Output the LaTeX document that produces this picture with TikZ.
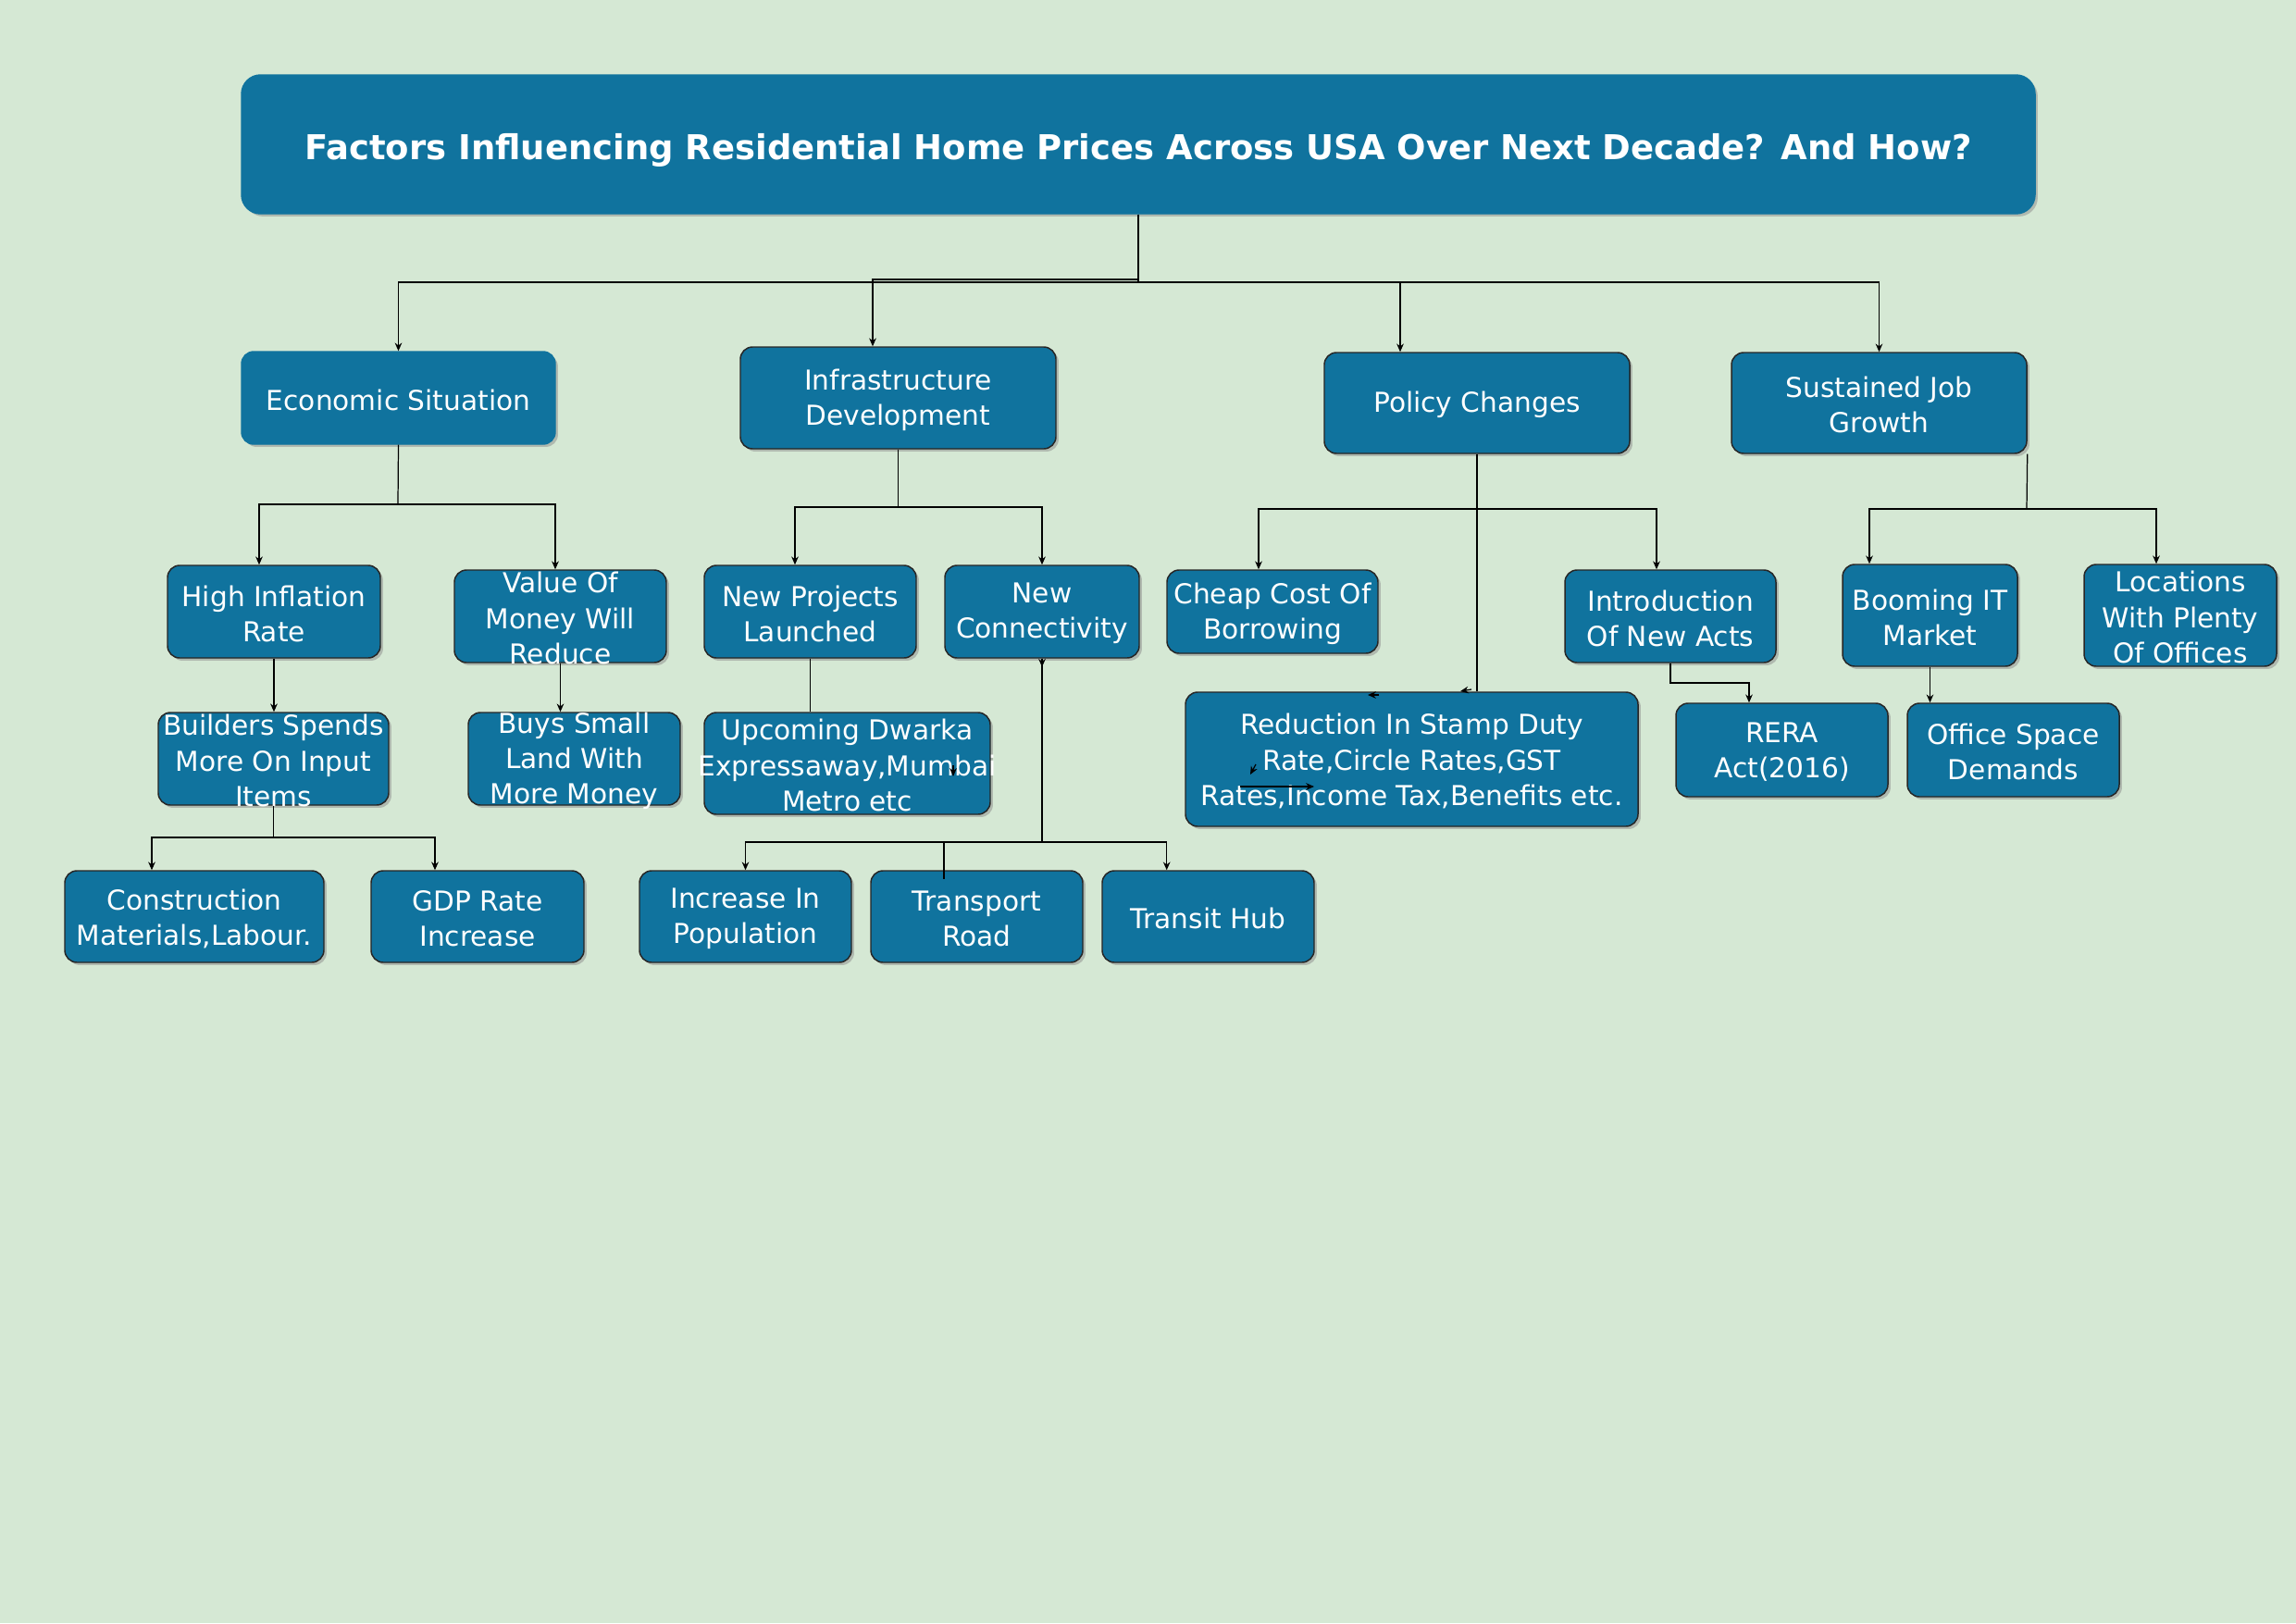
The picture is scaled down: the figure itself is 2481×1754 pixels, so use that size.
\documentclass[tikz,border=0pt]{standalone}
\usepackage{fontspec}
\setmainfont{DejaVu Sans}
\usetikzlibrary{arrows.meta,fit,shadows}
\definecolor{bgc}{HTML}{D5E8D4}
\definecolor{boxc}{HTML}{10739E}
\begin{document}
\begin{tikzpicture}[x=0.011971cm,y=-0.011971cm,
  shad/.style={drop shadow={shadow xshift=1pt,shadow yshift=-1pt,fill=black!45,opacity=0.5}},
  box/.style={draw=black!85,line width=0.5pt,fill=boxc,rounded corners=4.5pt,inner sep=0pt,shad},
  boxnb/.style={draw=boxc,line width=0.5pt,fill=boxc,rounded corners=4.5pt,inner sep=0pt,shad},
  txt/.style={text=white,align=center,inner sep=0pt,yshift=-0.7pt,font=\fontsize{10.1}{13}\selectfont},
  conn/.style={draw=black,line width=0.42pt},
  arr/.style={conn,-{Stealth[length=3pt,width=2.6pt]}}]
\useasboundingbox (0,0) rectangle (2481,1754);
\fill[bgc] (0,0) rectangle (2481,1754);

% ---- boxes ----
\node[boxnb,rounded corners=7pt,fit={(261,81) (2199,231)}] (title) {};
\node[text=white,inner sep=0pt,font=\bfseries\fontsize{12.6}{15}\selectfont] (ttitle) at ([yshift=-2.3pt]title.center) {Factors Influencing Residential Home Prices Across USA Over Next Decade? And How?};

\node[boxnb,fit={(261,380) (600,480)}] (econ) {};
\node[txt] (tecon) at (econ.center) {Economic Situation};
\node[box,fit={(800,375) (1141,485)}] (infra) {};
\node[txt] (tinfra) at (infra.center) {Infrastructure\\Development};
\node[box,fit={(1431,381) (1761,490)}] (policy) {};
\node[txt] (tpolicy) at (policy.center) {Policy Changes};
\node[box,fit={(1871,381) (2190,490)}] (sust) {};
\node[txt] (tsust) at (sust.center) {Sustained Job\\Growth};

\node[box,fit={(181,611) (411,711)}] (infl) {};
\node[txt] (tinfl) at (infl.center) {High Inflation\\Rate};
\node[box,fit={(491,616) (720,716)}] (value) {};
\node[txt] (tvalue) at (value.center) {Value Of\\Money Will\\Reduce};
\node[box,fit={(761,611) (990,711)}] (newproj) {};
\node[txt] (tnewproj) at (newproj.center) {New Projects\\Launched};
\node[box,fit={(1021,611) (1231,711)}] (newconn) {};
\node[txt] (tnewconn) at (newconn.center) {New\\Connectivity};
\node[box,fit={(1261,616) (1489,706)}] (cheap) {};
\node[txt] (tcheap) at (cheap.center) {Cheap Cost Of\\Borrowing};
\node[box,fit={(1691,616) (1919,716)}] (intro) {};
\node[txt] (tintro) at (intro.center) {Introduction\\Of New Acts};
\node[box,fit={(1991,610) (2180,720)}] (boom) {};
\node[txt] (tboom) at (boom.center) {Booming IT\\Market};
\node[box,fit={(2252,610) (2460,720)}] (loc) {};
\node[txt] (tloc) at (loc.center) {Locations\\With Plenty\\Of Offices};

\node[box,fit={(171,770) (420,870)}] (build) {};
\node[txt] (tbuild) at (build.center) {Builders Spends\\More On Input\\Items};
\node[box,fit={(506,770) (735,870)}] (buys) {};
\node[txt] (tbuys) at (buys.center) {Buys Small\\Land With\\More Money};
\node[box,fit={(761,770) (1070,880)}] (upc) {};
\node[txt] (tupc) at (upc.center) {Upcoming Dwarka\\Expressaway,Mumbai\\Metro etc};
\node[box,fit={(1281,748) (1770,893)}] (reduc) {};
\node[txt] (treduc) at (reduc.center) {Reduction In Stamp Duty\\Rate,Circle Rates,GST\\Rates,Income Tax,Benefits etc.};
\node[box,fit={(1811,760) (2040,861)}] (rera) {};
\node[txt] (trera) at (rera.center) {RERA\\Act(2016)};
\node[box,fit={(2061,760) (2290,861)}] (office) {};
\node[txt] (toffice) at (office.center) {Office Space\\Demands};

\node[box,fit={(70,941) (350,1040)}] (constr) {};
\node[txt] (tconstr) at (constr.center) {Construction\\Materials,Labour.};
\node[box,fit={(401,941) (631,1040)}] (gdp) {};
\node[txt] (tgdp) at (gdp.center) {GDP Rate\\Increase};
\node[box,fit={(691,941) (920,1040)}] (incpop) {};
\node[txt] (tincpop) at (incpop.center) {Increase In\\Population};
\node[box,fit={(941,941) (1170,1040)}] (transp) {};
\node[txt] (ttransp) at (transp.center) {Transport\\Road};
\node[box,fit={(1191,941) (1420,1040)}] (transit) {};
\node[txt] (ttransit) at (transit.center) {Transit Hub};

% ---- junction coordinates ----
\coordinate (jT) at (1230,305);
\coordinate (jT2) at (1230,302);
\coordinate (xI) at (943,0);
\coordinate (xP) at (1513,0);
\coordinate (jE) at (430,545);
\coordinate (xE1) at (280,0);
\coordinate (xE2) at (600,0);
\coordinate (jB) at (295.5,905);
\coordinate (xB1) at (164,0);
\coordinate (xB2) at (470,0);
\coordinate (jI) at (970.5,548);
\coordinate (xI1) at (859,0);
\coordinate (jC) at (1126,910);
\coordinate (xC3) at (1260.7,0);
\coordinate (cT) at (1020,950);
\coordinate (jP) at (1596,550);
\coordinate (xP1) at (1360,0);
\coordinate (xP2) at (1790,0);
\coordinate (jR) at (1890,738);
\coordinate (jS) at (2190,550);
\coordinate (xS1) at (2020,0);
\coordinate (xS2) at (2330,0);
% stray arrowheads
\coordinate (s1a) at (1490,751);
\coordinate (s1b) at (1478,751);
\coordinate (s2a) at (1590,745);
\coordinate (s2b) at (1578,747);
\coordinate (s3a) at (1340,850);
\coordinate (s3b) at (1420,850);
\coordinate (s4a) at (1357,826);
\coordinate (s4b) at (1351,837);
\coordinate (s5a) at (1030,827);
\coordinate (s5b) at (1030,839);

% ---- connectors ----
\draw[conn] (title.south) -- (jT);
\draw[arr] (jT) -| (econ.north);
\draw[arr] (jT2) -| (infra.north -| xI);
\draw[arr] (jT) -| (policy.north -| xP);
\draw[arr] (jT) -| (sust.north);

\draw[conn] (econ.south) -- (jE);
\draw[arr] (jE) -| (infl.north -| xE1);
\draw[arr] (jE) -| (value.north -| xE2);
\draw[arr] (infl.south) -- (infl.south |- build.north);
\draw[arr] (value.south) -- (value.south |- buys.north);
\draw[conn] (build.south) -- (jB);
\draw[arr] (jB) -| (constr.north -| xB1);
\draw[arr] (jB) -| (gdp.north -| xB2);

\draw[conn] (infra.south) -- (jI);
\draw[arr] (jI) -| (newproj.north -| xI1);
\draw[arr] (jI) -| (newconn.north);
\draw[conn] (newproj.south) -- (newproj.south |- upc.north);
\draw[conn] (newconn.south) -- (jC);
\draw[arr] (newconn.south) -- ++(0,9);
\draw[arr] (jC) -| (incpop.north);
\draw[arr] (jC) -| (transit.north -| xC3);
\draw[conn] (jC -| cT) -- (cT);

\draw[conn] (policy.south) -- (policy.south |- reduc.north);
\draw[arr] (jP) -| (cheap.north -| xP1);
\draw[arr] (jP) -| (intro.north -| xP2);
\draw[arr] (intro.south) |- (jR) -- (jR |- rera.north);

\draw[conn] (sust.south east) -- (jS);
\draw[arr] (jS) -| (boom.north -| xS1);
\draw[arr] (jS) -| (loc.north -| xS2);
\draw[arr] (boom.south) -- (boom.south |- office.north);

\draw[arr] (s1a) -- (s1b);
\draw[arr] (s2a) -- (s2b);
\draw[arr] (s3a) -- (s3b);
\draw[arr] (s4a) -- (s4b);
\draw[arr] (s5a) -- (s5b);
\end{tikzpicture}
\end{document}
